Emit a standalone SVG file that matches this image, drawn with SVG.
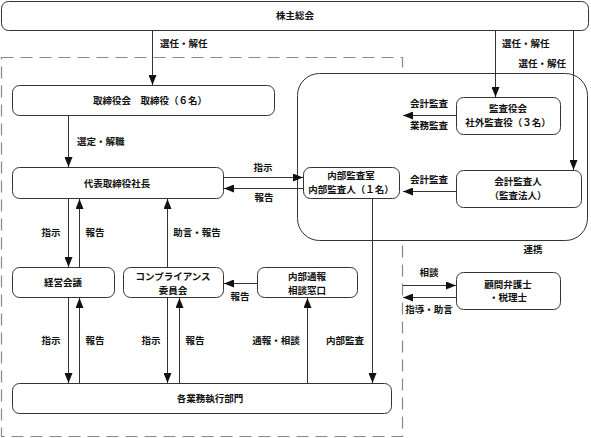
<svg xmlns="http://www.w3.org/2000/svg" width="591" height="438" viewBox="0 0 591 438">
<defs>
<marker id="ah" markerUnits="userSpaceOnUse" markerWidth="10" markerHeight="8" refX="10" refY="4" orient="auto">
<path d="M0,0 L10,4 L0,8 z" fill="#111"/>
</marker>
<style>
.box{fill:#fff;stroke:#333;stroke-width:1}
.t{font-family:"Noto Sans CJK JP","Noto Sans",sans-serif;font-size:9.5px;font-weight:bold;fill:#111}
.m{text-anchor:middle}
.c line{stroke:#333;stroke-width:1;marker-end:url(#ah)}
</style>
</defs>
<rect width="591" height="438" fill="#fff"/>
<rect x="1.5" y="57.5" width="401" height="379" fill="none" stroke="#888" stroke-width="1.2" stroke-dasharray="12 7"/>
<g id="kansa-area"><rect class="box" x="297.5" y="73.5" width="290" height="167" rx="22" fill="none"/></g>
<g id="kabunushi"><rect class="box" x="1.5" y="1.5" width="587" height="29" rx="7"/><text class="t m" x="295" y="19">株主総会</text></g>
<g id="torishimariyakukai"><rect class="box" x="12.5" y="85.5" width="262" height="30" rx="7"/><text class="t m" x="150" y="104">取締役会　取締役（６名）</text></g>
<g id="daihyo"><rect class="box" x="12.5" y="167.5" width="211" height="31" rx="7"/><text class="t m" x="117" y="187">代表取締役社長</text></g>
<g id="naibukansa"><rect class="box" x="303.5" y="167.5" width="96" height="31" rx="7"/><text class="t m" x="351" y="179">内部監査室</text><text class="t m" x="351" y="192.5">内部監査人（１名）</text></g>
<g id="kansayakukai"><rect class="box" x="456.5" y="97.5" width="104" height="37" rx="7"/><text class="t m" x="508" y="112">監査役会</text><text class="t m" x="508" y="125.5">社外監査役（３名）</text></g>
<g id="kaikeikansanin"><rect class="box" x="456.5" y="170.5" width="125" height="37" rx="7"/><text class="t m" x="518" y="185">会計監査人</text><text class="t m" x="518" y="198.5">（監査法人）</text></g>
<g id="komon"><rect class="box" x="456.5" y="272.5" width="104" height="37" rx="7"/><text class="t m" x="508" y="287.5">顧問弁護士</text><text class="t m" x="508" y="301">・税理士</text></g>
<g id="keieikaigi"><rect class="box" x="12.5" y="267.5" width="102" height="30" rx="7"/><text class="t m" x="63" y="286">経営会議</text></g>
<g id="compliance"><rect class="box" x="123.5" y="267.5" width="100" height="30" rx="7"/><text class="t m" x="173" y="280">コンプライアンス</text><text class="t m" x="173" y="293.5">委員会</text></g>
<g id="naibutsuho"><rect class="box" x="257.5" y="267.5" width="100" height="30" rx="7"/><text class="t m" x="307" y="280">内部通報</text><text class="t m" x="307" y="293.5">相談窓口</text></g>
<g id="gyomu"><rect class="box" x="12.5" y="383.5" width="379" height="30" rx="7"/><text class="t m" x="210" y="402">各業務執行部門</text></g>
<g class="c" id="connectors">
<line x1="152.5" y1="31" x2="152.5" y2="85"/>
<line x1="68.5" y1="116" x2="68.5" y2="167"/>
<line x1="68.5" y1="199" x2="68.5" y2="267"/>
<line x1="79.5" y1="267" x2="79.5" y2="199"/>
<line x1="167.5" y1="267" x2="167.5" y2="199"/>
<line x1="257" y1="283.5" x2="224" y2="283.5"/>
<line x1="68.5" y1="298" x2="68.5" y2="383"/>
<line x1="79.5" y1="383" x2="79.5" y2="298"/>
<line x1="167.5" y1="298" x2="167.5" y2="383"/>
<line x1="179.5" y1="383" x2="179.5" y2="298"/>
<line x1="307.5" y1="383" x2="307.5" y2="298"/>
<line x1="372.5" y1="199" x2="372.5" y2="383"/>
<line x1="224" y1="177.5" x2="303" y2="177.5"/>
<line x1="303" y1="188.5" x2="224" y2="188.5"/>
<line x1="495.5" y1="31" x2="495.5" y2="97"/>
<line x1="573.5" y1="31" x2="573.5" y2="170"/>
<line x1="456" y1="115.5" x2="403" y2="115.5"/>
<line x1="456" y1="191.5" x2="403" y2="191.5"/>
<line x1="403" y1="285.5" x2="456" y2="285.5"/>
<line x1="456" y1="297.5" x2="403" y2="297.5"/>
</g>
<g id="labels">
<text class="t" x="160" y="47">選任・解任</text>
<text class="t" x="77" y="145">選定・解職</text>
<text class="t m" x="263" y="171">指示</text>
<text class="t m" x="264" y="201">報告</text>
<text class="t" x="502" y="47">選任・解任</text>
<text class="t" x="566" y="67" text-anchor="end">選任・解任</text>
<text class="t" x="410" y="107">会計監査</text>
<text class="t" x="410" y="129">業務監査</text>
<text class="t" x="410" y="183">会計監査</text>
<text class="t m" x="533" y="253">連携</text>
<text class="t m" x="429" y="276">相談</text>
<text class="t m" x="429" y="313">指導・助言</text>
<text class="t m" x="51" y="236">指示</text>
<text class="t m" x="95" y="236">報告</text>
<text class="t m" x="197" y="236">助言・報告</text>
<text class="t m" x="240" y="300">報告</text>
<text class="t m" x="51" y="344">指示</text>
<text class="t m" x="95" y="344">報告</text>
<text class="t m" x="151" y="344">指示</text>
<text class="t m" x="195" y="344">報告</text>
<text class="t m" x="276" y="344">通報・相談</text>
<text class="t m" x="345" y="344">内部監査</text>
</g>
</svg>
